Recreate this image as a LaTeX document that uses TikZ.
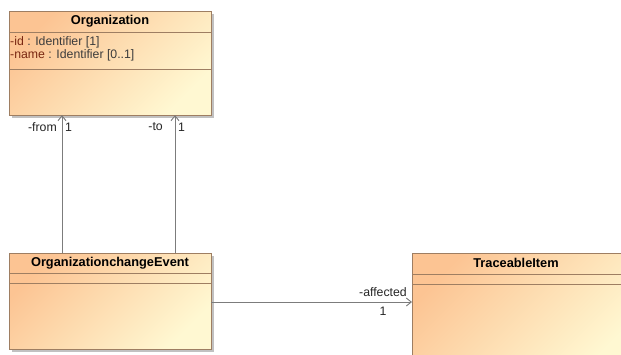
\documentclass[tikz,border=0pt]{standalone}
\usepackage{fontspec}
\setmainfont{Liberation Sans}
\usetikzlibrary{arrows.meta,shadows}
\definecolor{boxorange}{HTML}{FCC493}
\definecolor{boxcream}{HTML}{FFF8D2}
\definecolor{boxedge}{HTML}{9E7E62}
\definecolor{wire}{HTML}{7C7C7C}
\definecolor{attrname}{HTML}{7A2812}
\definecolor{attrtype}{HTML}{3C3C3C}
\tikzset{
  classbox/.style={draw=boxedge, line width=0.8pt, rectangle, inner sep=0pt, outer sep=0pt,
    shading=axis, top color=boxorange, bottom color=boxcream, shading angle=45,
    drop shadow={shadow xshift=2.5pt, shadow yshift=-2.5pt, fill=black!40, opacity=0.6}},
  sepline/.style={draw=boxedge, line width=0.8pt},
  classname/.style={font=\fontsize{12.8}{14}\selectfont\bfseries, text=black, inner sep=0pt},
  attr/.style={font=\fontsize{12.3}{14}\selectfont, anchor=west, inner sep=0pt},
  rolelabel/.style={font=\fontsize{12.3}{14}\selectfont, text=black!85, inner sep=0pt},
  assoc/.style={draw=wire, line width=0.9pt, -{Straight Barb[length=5pt,width=8pt]}},
}
\begin{document}
\begin{tikzpicture}[x=1pt,y=-1pt]
  \useasboundingbox (0,0) rectangle (621,354);
  \fill[white] (0,0) rectangle (621,354);
  \begin{scope}
    \clip (0,0) rectangle (621,354);

    % Organization class
    \node[classbox, minimum width=202pt, minimum height=104pt] (org) at (110,63) {};
    \draw[sepline] (org.west |- 0,32) -- (org.east |- 0,32);
    \draw[sepline] (org.west |- 0,69) -- (org.east |- 0,69);
    \node[classname] (orgname) at (110,21) {Organization};
    \node[attr] (orgid) at (10,42) {{\color{attrname}-id}\color{attrtype}\ : Identifier [1]};
    \node[attr] (orgnm) at (10,55) {{\color{attrname}-name}\color{attrtype}\ : Identifier [0..1]};

    % OrganizationchangeEvent class
    \node[classbox, minimum width=202pt, minimum height=96pt] (oce) at (110,301) {};
    \draw[sepline] (oce.west |- 0,273) -- (oce.east |- 0,273);
    \draw[sepline] (oce.west |- 0,283) -- (oce.east |- 0,283);
    \node[classname] (ocename) at (110,263) {OrganizationchangeEvent};

    % TraceableItem class
    \node[classbox, minimum width=209pt, minimum height=130pt] (ti) at (516.5,318) {};
    \draw[sepline] (ti.west |- 0,274) -- (ti.east |- 0,274);
    \draw[sepline] (ti.west |- 0,284) -- (ti.east |- 0,284);
    \node[classname] (tiname) at (516,263) {TraceableItem};

    % Associations
    \coordinate (fromtop) at (62,115);
    \coordinate (frombot) at (62,253);
    \coordinate (totop) at (175,115);
    \coordinate (tobot) at (175,253);
    \coordinate (affstart) at (211,302);
    \coordinate (affend) at (412,302);
    \draw[assoc] (frombot) -- (fromtop);
    \draw[assoc] (tobot) -- (totop);
    \draw[assoc] (affstart) -- (affend);

    \node[rolelabel, anchor=east] (fromrole) at (57,127) {-from};
    \node[rolelabel, anchor=west] (frommult) at (65,127) {1};
    \node[rolelabel, anchor=east] (torole) at (163,127) {-to};
    \node[rolelabel, anchor=west] (tomult) at (178,127) {1};
    \node[rolelabel, anchor=east] (affrole) at (407,292) {-affected};
    \node[rolelabel] (affmult) at (383,311) {1};
  \end{scope}
\end{tikzpicture}
\end{document}
